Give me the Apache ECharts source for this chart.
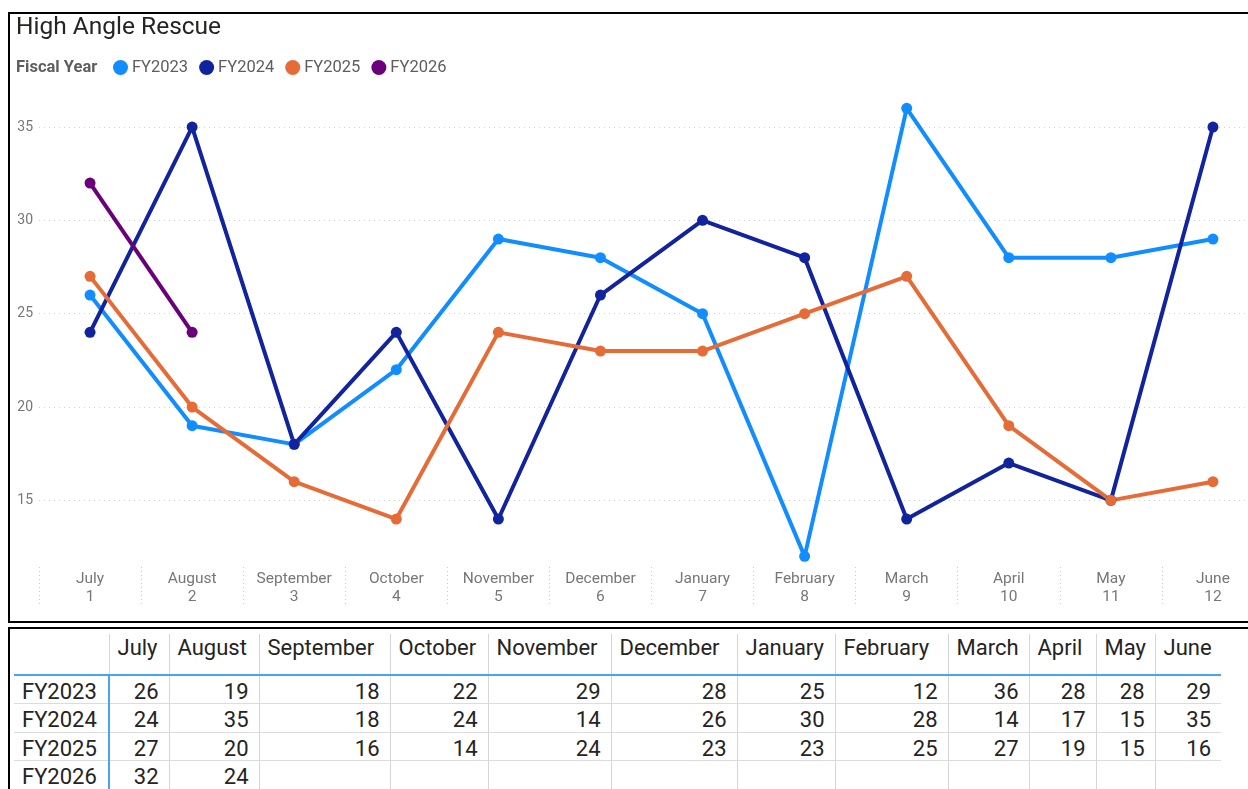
<!DOCTYPE html>
<html><head><meta charset="utf-8">
<script src="https://cdn.jsdelivr.net/npm/echarts@6/dist/echarts.min.js"></script>
<style>
html,body{margin:0;padding:0;background:#fff;width:1248px;height:789px;overflow:hidden;}
#chart{position:absolute;left:0;top:0;width:1280px;height:789px;}
.bx{position:absolute;pointer-events:none;background:#000;}
#tbl{position:absolute;left:8px;top:627px;width:1240px;height:162px;overflow:hidden;border-top:2px solid #000;border-left:2px solid #000;box-sizing:border-box;font-family:Roboto,sans-serif;color:#252423;font-size:22px;background:#fff;}
#tbl table{border-collapse:collapse;table-layout:fixed;margin-left:4px;margin-top:5px;}
#tbl th{font-weight:normal;text-align:left;vertical-align:top;padding:2px 0 0 8px;height:41px;line-height:24px;border-left:1px solid #d6d6d6;border-bottom:2px solid #4aa2f3;box-sizing:border-box;white-space:nowrap;overflow:hidden;}
#tbl th.first{border-left:none;border-right:1px solid #d6d6d6;}
#tbl td{text-align:right;padding:5px 10px 0 0;height:28.5px;line-height:22px;border-left:1px solid #d6d6d6;border-bottom:1px solid #dcdcdc;box-sizing:border-box;white-space:nowrap;}
#tbl td.rl{text-align:left;padding:5px 0 0 8px;border-left:none;border-right:2px solid #4aa2f3;}
</style></head>
<body>
<div id="chart"></div>
<div class="bx" style="left:8px;top:12px;width:1240px;height:2px"></div>
<div class="bx" style="left:8px;top:12px;width:2px;height:611px"></div>
<div class="bx" style="left:8px;top:621px;width:1240px;height:2px"></div>
<div id="tbl"></div>
<script>
const months = ['July','August','September','October','November','December','January','February','March','April','May','June'];
const monthNums = ['1','2','3','4','5','6','7','8','9','10','11','12'];
const seriesNames = ['FY2023','FY2024','FY2025','FY2026'];
const fy2023 = [26,19,18,22,29,28,25,12,36,28,28,29];
const fy2024 = [24,35,18,24,14,26,30,28,14,17,15,35];
const fy2025 = [27,20,16,14,24,23,23,25,27,19,15,16];
const fy2026 = [32,24,null,null,null,null,null,null,null,null,null,null];
const colors = ['#118DFF','#12239E','#E66C37','#6B007B'];
const allData = [fy2023, fy2024, fy2025, fy2026];

const FONT = 'Roboto, sans-serif';
const chart = echarts.init(document.getElementById('chart'), null, {renderer:'canvas'});
chart.setOption({
  backgroundColor:'#fff',
  animation:false,
  title:{text:'High Angle Rescue', left:11, top:10, textStyle:{fontFamily:FONT, fontSize:24.5, fontWeight:'normal', color:'#252423'}},
  graphic:[{type:'text', left:16, top:59, style:{text:'Fiscal Year', fontFamily:FONT, fontSize:16.5, fontWeight:'bold', fill:'#605E5C'}}],
  legend:{data:seriesNames, left:108, top:54, icon:'circle', itemWidth:15, itemHeight:15, itemGap:11,
    textStyle:{fontFamily:FONT, fontSize:16.5, color:'#605E5C', padding:[0,0,0,-1]}},
  grid:{left:39, right:16, top:89.7, bottom:195.3},
  xAxis:{type:'category', data:months, boundaryGap:true, offset:-26.7,
    axisLine:{show:false},
    axisTick:{show:true, length:40, lineStyle:{color:'#c8c8c8', type:[1,3]}},
    axisLabel:{interval:0, margin:3, fontFamily:FONT, fontSize:15.5, lineHeight:18, color:'#777',
      formatter:(v,i)=> v + '\n' + monthNums[i]}},
  yAxis:{type:'value', min:10, max:37, interval:5,
    axisLine:{show:false}, axisTick:{show:false},
    axisLabel:{showMinLabel:false, showMaxLabel:false, margin:6, fontFamily:FONT, fontSize:14, color:'#777'},
    splitLine:{show:true, showMinLine:false, showMaxLine:false, lineStyle:{color:'#cfcfcf', type:[1,4]}}},
  series: seriesNames.map((n,k)=>({name:n, type:'line', data:allData[k], color:colors[k],
    symbol:'circle', symbolSize:11, lineStyle:{width:4}, itemStyle:{color:colors[k]}}))
});

// table
const widths = [95,60,90,131,98,123,126,98,113,81,67,59,66];
let html = '<table><colgroup>' + widths.map(w=>'<col style="width:'+w+'px">').join('') + '</colgroup>';
html += '<tr><th class="first"></th>' + months.map(m=>'<th>'+m+'</th>').join('') + '</tr>';
seriesNames.forEach((n,k)=>{
  html += '<tr><td class="rl">'+n+'</td>' + allData[k].map(v=>'<td>'+(v==null?'':v)+'</td>').join('') + '</tr>';
});
html += '</table>';
document.getElementById('tbl').innerHTML = html;
</script>
</body></html>
